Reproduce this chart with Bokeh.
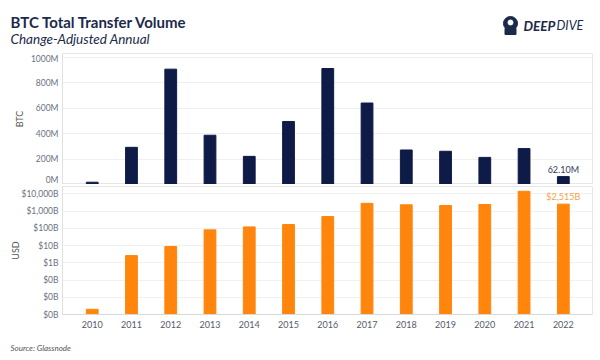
from bokeh.plotting import figure
from bokeh.layouts import column
from bokeh.models import Range1d, FixedTicker, CustomJSTickFormatter
from bokeh.core.properties import value
from bokeh.embed import file_html
from bokeh.resources import INLINE

years = [2010, 2011, 2012, 2013, 2014, 2015, 2016, 2017, 2018, 2019, 2020, 2021, 2022]
btc_volume = [18e6, 292e6, 906e6, 387e6, 221e6, 495e6, 911e6, 640e6, 271e6, 261e6, 213e6, 282e6, 62.1e6]
usd_volume = [2.0e6, 2.6e9, 8.7e9, 8.1e10, 1.2e11, 1.65e11, 4.8e11, 2.8e12, 2.3e12, 2.1e12, 2.4e12, 1.4e13, 2.515e12]
btc_ticks = [0, 200e6, 400e6, 600e6, 800e6, 1000e6]
usd_ticks = [1e6, 1e7, 1e8, 1e9, 1e10, 1e11, 1e12, 1e13]

NAVY = "#0e1b47"
ORANGE = "#ff850d"
TICK_COLOR = "#6a7082"
FONT = value("Lato")
W = 600

xr = Range1d(2009.243, 2022.743)

# ---- header ----
hdr = figure(width=W, height=53, x_range=Range1d(0, W), y_range=Range1d(53, 0),
             toolbar_location=None, output_backend="svg",
             x_axis_location=None, y_axis_location=None, min_border=0,
             outline_line_color=None)
hdr.grid.visible = False
hdr.text(x=[10], y=[21], text=["BTC Total Transfer Volume"], text_font=FONT,
         text_font_style="bold", text_font_size="15px", text_color="#1b2a4a",
         text_baseline="middle")
hdr.text(x=[10], y=[38.5], text=["Change-Adjusted Annual"], text_font=FONT,
         text_font_style="italic", text_font_size="13.5px", text_color="#1b2a4a",
         text_baseline="middle")
# logo
hdr.scatter(x=[510], y=[23], size=14, marker="circle", color="#1b2a4a")
hdr.rect(x=[510], y=[31], width=11, height=6, color="#1b2a4a")
hdr.scatter(x=[510], y=[22], size=5, marker="circle", color="white")
hdr.text(x=[523], y=[25], text=["DEEP"], text_font=FONT, text_font_style="bold italic",
         text_font_size="13.5px", text_color="#1b2a4a", text_baseline="middle")
hdr.text(x=[556], y=[25], text=["DIVE"], text_font=FONT, text_font_style="italic",
         text_font_size="12.5px", text_color="#1b2a4a", text_baseline="middle")

def style_y(p, label, standoff):
    ax = p.yaxis[0]
    ax.axis_label = label
    ax.axis_label_text_font = "Lato"
    ax.axis_label_text_font_size = "9px"
    ax.axis_label_text_font_style = "normal"
    ax.axis_label_text_color = "#555555"
    ax.axis_label_standoff = standoff
    ax.major_label_text_font = "Lato"
    ax.major_label_text_font_size = "8.5px"
    ax.major_label_text_color = TICK_COLOR
    ax.major_tick_line_color = None
    ax.minor_tick_line_color = None
    ax.major_tick_out = 0
    ax.major_label_standoff = 4
    ax.axis_line_color = "#e0e0e0"
    p.xgrid.visible = False
    p.ygrid.grid_line_color = "#f0f0f0"

# ---- top panel (BTC) ----
top = figure(width=W, height=131, x_range=xr, y_range=Range1d(0, 1.029e9),
             toolbar_location=None, output_backend="svg", x_axis_location=None,
             min_border_left=62, min_border_right=8, min_border_top=0, min_border_bottom=0,
             outline_line_color="#e6e6e6")
top.vbar(x=years, top=btc_volume, bottom=0, width=0.3, color=NAVY)
top.yaxis.ticker = FixedTicker(ticks=btc_ticks)
top.yaxis.formatter = CustomJSTickFormatter(code="return (tick/1e6).toFixed(0) + 'M';")
style_y(top, "BTC", 3)
top.text(x=[years[-1]], y=[btc_volume[-1]], text=[f"{btc_volume[-1]/1e6:.2f}M"],
         text_font=FONT, text_font_size="9px", text_color="#33405e",
         text_align="center", text_baseline="bottom", y_offset=-2)

# ---- bottom panel (USD, log) ----
bot = figure(width=W, height=156, x_range=xr, y_range=Range1d(1e6, 2.65e13),
             y_axis_type="log", toolbar_location=None, output_backend="svg",
             min_border_left=62, min_border_right=8, min_border_top=2, min_border_bottom=26,
             outline_line_color="#e6e6e6")
bot.vbar(x=years, top=usd_volume, bottom=1e6, width=0.3, color=ORANGE)
bot.yaxis.ticker = FixedTicker(ticks=usd_ticks)
bot.yaxis.formatter = CustomJSTickFormatter(
    code="return '$' + Math.round(tick/1e9).toLocaleString('en-US') + 'B';")
style_y(bot, "USD", -3)
bot.xaxis.ticker = FixedTicker(ticks=years)
bot.xaxis.major_label_text_font = "Lato"
bot.xaxis.major_label_text_font_size = "9px"
bot.xaxis.major_label_text_color = "#555a6a"
bot.xaxis.major_tick_line_color = None
bot.xaxis.minor_tick_line_color = None
bot.xaxis.major_tick_out = 0
bot.xaxis.major_label_standoff = 6
bot.xaxis.axis_line_color = "#d9d9d9"
bot.text(x=[years[-1]], y=[usd_volume[-1]], text=[f"${usd_volume[-1]/1e9:,.0f}B"],
         text_font=FONT, text_font_size="9px", text_color="#f5a04a",
         text_align="center", text_baseline="bottom", y_offset=-2)

# ---- footer ----
ftr = figure(width=W, height=18, x_range=Range1d(0, W), y_range=Range1d(18, 0),
             toolbar_location=None, output_backend="svg",
             x_axis_location=None, y_axis_location=None, min_border=0,
             outline_line_color=None)
ftr.grid.visible = False
ftr.text(x=[10], y=[7], text=["Source: Glassnode"], text_font=FONT,
         text_font_style="italic", text_font_size="8px", text_color="#555555",
         text_baseline="middle")

panels = column(top, bot, spacing=0)
layout = column(hdr, panels, ftr, spacing=0)
open("out.html", "w").write(file_html(layout, INLINE))
